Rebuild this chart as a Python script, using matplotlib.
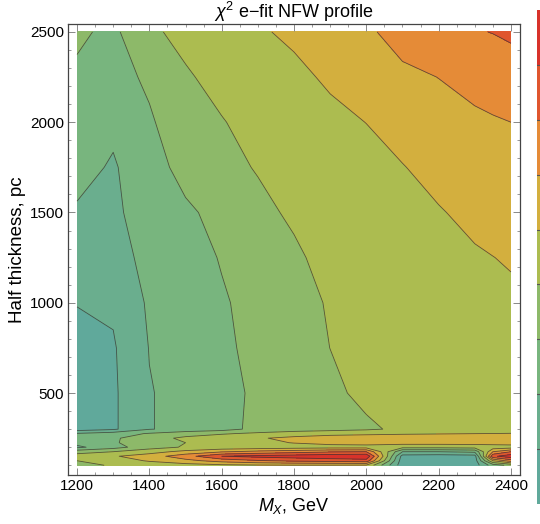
import numpy as np
import matplotlib
matplotlib.use('Agg')
import matplotlib.pyplot as plt
from matplotlib.ticker import MultipleLocator

plt.rcParams['font.family'] = ['Liberation Sans', 'DejaVu Sans']
plt.rcParams['mathtext.fontset'] = 'custom'
plt.rcParams['mathtext.rm'] = 'Liberation Sans'
plt.rcParams['mathtext.it'] = 'Liberation Sans:italic'

#------------------------ data (contour level units) ------------------------
mass_gev = [1200, 1300, 1400, 1500, 1600, 1700, 1800, 1900, 2000, 2100, 2200, 2300, 2350, 2400]
half_pc = [100, 125, 150, 175, 200, 225, 250, 275, 300, 500, 750, 1000, 1250, 1500, 1750, 2000, 2250, 2500]

chi2_100 = [3.7, 4.1, 4.4, 4.6, 4.8, 4.9, 4.95, 4.95, 4.9, 0.4, 0.3, 0.5, 2.5, 3.3]
chi2_125 = [4.0, 4.5, 5.1, 5.7, 6.4, 6.9, 7.2, 7.4, 7.6, 0.4, 0.3, 0.5, 5.0, 6.5]
chi2_150 = [4.5, 4.9, 5.5, 6.6, 8.0, 8.3, 8.5, 8.7, 8.8, 0.6, 0.5, 0.6, 7.8, 8.6]
chi2_175 = [3.6, 4.0, 4.6, 5.3, 5.9, 6.3, 6.6, 6.9, 7.0, 2.0, 2.0, 2.2, 6.0, 7.0]
chi2_200 = [1.8, 2.6, 3.6, 4.1, 4.3, 4.4, 4.5, 4.6, 4.6, 4.3, 4.3, 4.4, 4.45, 4.5]
chi2_225 = [2.3, 2.9, 3.5, 4.0, 4.4, 4.7, 5.05, 5.3, 5.4, 5.4, 5.4, 5.4, 5.45, 5.5]
chi2_250 = [2.4, 2.85, 3.6, 4.2, 4.6, 4.9, 5.25, 5.5, 5.6, 5.6, 5.65, 5.7, 5.75, 5.8]
chi2_275 = [2.1, 2.5, 3.1, 3.6, 3.9, 4.2, 4.5, 4.7, 4.8, 4.9, 4.95, 5.0, 5.02, 5.05]
chi2_300 = [0.5, 0.85, 1.95, 2.3, 2.6, 3.3, 3.5, 3.65, 3.85, 4.18, 4.3, 4.35, 4.37, 4.4]
chi2_500 = [0.5, 0.85, 1.95, 2.3, 2.6, 3.22, 3.5, 3.8, 4.22, 4.35, 4.45, 4.52, 4.56, 4.6]
chi2_750 = [0.7, 0.9, 2.03, 2.4, 2.85, 3.21, 3.55, 4.006, 4.2, 4.35, 4.45, 4.55, 4.6, 4.65]
chi2_1000 = [1.03, 1.15, 2.14, 2.45, 2.9, 3.31, 3.6, 4.1, 4.3, 4.45, 4.6, 4.72, 4.78, 4.85]
chi2_1250 = [1.5, 1.6, 2.29, 2.6, 3.06, 3.4, 3.8, 4.4, 4.55, 4.7, 4.8, 4.92, 4.99, 5.07]
chi2_1500 = [1.9, 1.75, 2.62, 2.85, 3.27, 3.7, 4.19, 4.4, 4.6, 4.8, 4.95, 5.18, 5.29, 5.4]
chi2_1750 = [2.3, 1.9, 2.62, 3.3, 3.65, 4.08, 4.3, 4.5, 4.7, 4.97, 5.24, 5.45, 5.57, 5.7]
chi2_2000 = [2.53, 2.2, 2.9, 3.5, 3.95, 4.32, 4.55, 4.78, 5.01, 5.3, 5.55, 5.8, 5.9, 6.0]
chi2_2250 = [2.85, 2.7, 3.14, 3.89, 4.3, 4.55, 4.8, 5.13, 5.45, 5.75, 6.015, 6.35, 6.52, 6.7]
chi2_2500 = [3.15, 2.8, 3.83, 4.27, 4.5, 4.9, 5.16, 5.45, 5.8, 6.47, 6.75, 6.95, 7.02, 7.1]

band_colors = ['#60a99b', '#6aae8e', '#78b57e', '#8db969', '#acbc50',
               '#d3af3e', '#e58b37', '#e0562e', '#d8322a']
levels = np.arange(0, 10)

z = np.array([chi2_100, chi2_125, chi2_150, chi2_175, chi2_200, chi2_225, chi2_250,
              chi2_275, chi2_300, chi2_500, chi2_750, chi2_1000, chi2_1250, chi2_1500,
              chi2_1750, chi2_2000, chi2_2250, chi2_2500])
X, Y = np.meshgrid(mass_gev, half_pc)

#------------------------ plot ------------------------
fig = plt.figure(figsize=(5.4, 5.24), dpi=100)
ax = fig.add_axes([68/540, 49/524, 452/540, 451/524])

ax.contourf(X, Y, z, levels=levels, colors=band_colors)
ax.contour(X, Y, z, levels=levels[1:-1], colors='#333333', linewidths=0.6, alpha=0.75)

ax.set_xlim(1175, 2425)
ax.set_ylim(46, 2544)
ax.xaxis.set_major_locator(MultipleLocator(200))
ax.xaxis.set_minor_locator(MultipleLocator(50))
ax.yaxis.set_major_locator(MultipleLocator(500))
ax.yaxis.set_minor_locator(MultipleLocator(100))
ax.tick_params(which='both', direction='in', top=True, right=True, color='#888888',
               labelsize=11, pad=3)
ax.tick_params(which='major', length=5, width=0.7)
ax.tick_params(which='minor', length=2.5, width=0.6)
for s in ax.spines.values():
    s.set_color('#444444')
    s.set_linewidth(0.9)

ax.set_title(r'$\chi^2$ e$-$fit NFW profile', fontsize=13, pad=1)
ax.set_xlabel(r'$M_X$, GeV', fontsize=13, labelpad=2)
ax.set_ylabel('Half thickness, pc', fontsize=13.5, labelpad=3)

# colorbar strip at the right edge (mostly cut off in the original)
cax = fig.add_axes([537/540, 20/524, 12/540, 494/524])
for i, c in enumerate(band_colors):
    cax.axhspan(i, i + 1, color=c, lw=0)
    if i > 0:
        cax.axhline(i, color='#555555', lw=0.8)
cax.set_ylim(0, 9)
cax.set_xlim(0, 1)
cax.axis('off')

fig.savefig('out.png', dpi=100)
